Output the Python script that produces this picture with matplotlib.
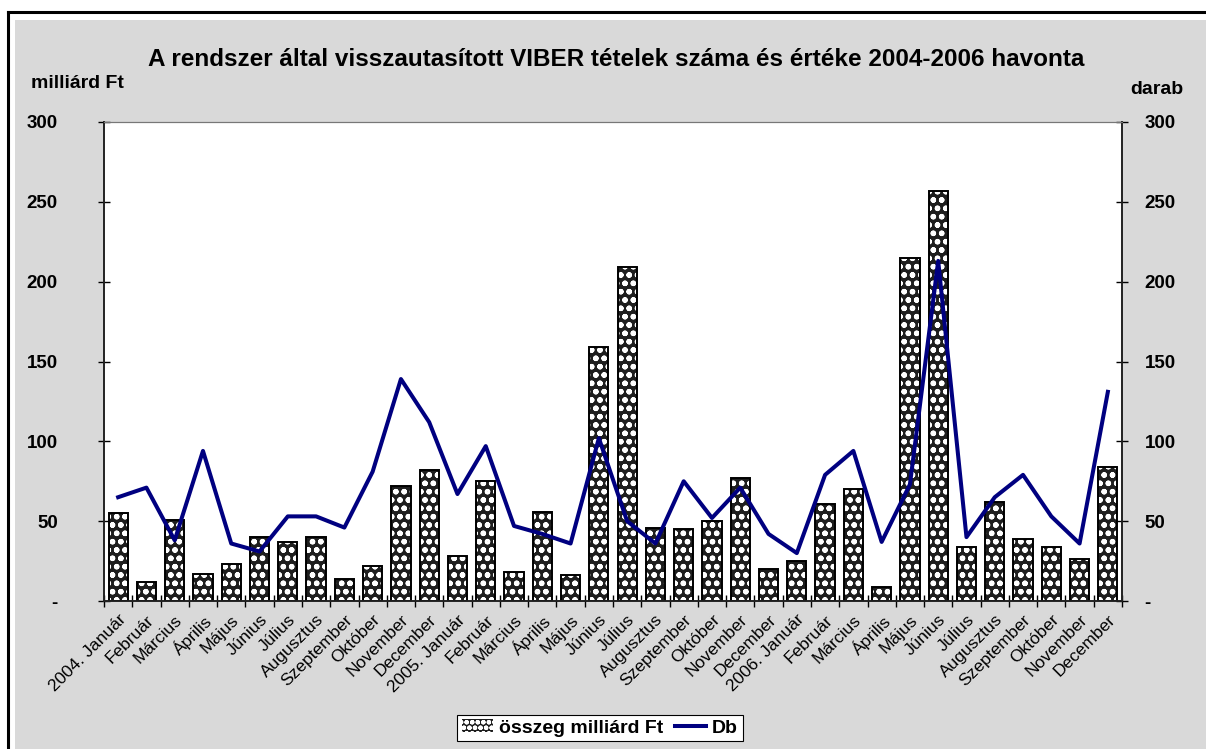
import matplotlib.pyplot as plt
from matplotlib.patches import Rectangle, Patch
from matplotlib.lines import Line2D

plt.rcParams['font.family'] = ['Liberation Sans', 'DejaVu Sans']
plt.rcParams['hatch.linewidth'] = 1.6

months = ["Január", "Február", "Március", "Április", "Május", "Június",
          "Július", "Augusztus", "Szeptember", "Október", "November", "December"]
labels = []
for year in ["2004", "2005", "2006"]:
    labels += [year + ". " + months[0]] + months[1:]

osszeg = [55, 12, 51, 17, 23, 40, 37, 40, 14, 22, 72, 82,
          28, 75, 18, 56, 16, 159, 209, 46, 45, 50, 77, 20,
          25, 61, 70, 9, 215, 257, 34, 62, 39, 34, 26, 84]
db = [65, 71, 38, 94, 36, 31, 53, 53, 46, 81, 139, 112,
      67, 97, 47, 42, 36, 102, 50, 36, 75, 52, 71, 42,
      30, 79, 94, 37, 73, 213, 40, 65, 79, 53, 36, 131]

W, H = 1206, 749
fig = plt.figure(figsize=(W / 100, H / 100), dpi=100, facecolor='white')

# background panel and frame
fig.add_artist(Rectangle((15 / W, 0), 1, 1 - 20 / H, transform=fig.transFigure,
                         facecolor='#d9d9d9', edgecolor='none', zorder=-5))
fig.add_artist(Line2D([8 / W, 8 / W], [0, 1 - 12 / H], color='black', lw=2.2,
                      transform=fig.transFigure, zorder=-4))
fig.add_artist(Line2D([8 / W, 1], [1 - 12 / H, 1 - 12 / H], color='black', lw=2.2,
                      transform=fig.transFigure, zorder=-4))

ax = fig.add_axes([104 / W, (H - 601) / H, (1122 - 104) / W, (601 - 122) / H])
ax.set_facecolor('white')
x = list(range(len(labels)))

ax.bar(x, osszeg, width=0.68, facecolor='#1e1e1e', edgecolor='white', hatch='oo',
       linewidth=0, zorder=2)
ax.bar(x, osszeg, width=0.68, fill=False, edgecolor='black', linewidth=1.4, zorder=3)

ax.set_xlim(-0.5, len(labels) - 0.5)
ax.set_ylim(0, 300)
ax.set_yticks(range(0, 301, 50))
ax.set_yticklabels(['-'] + [str(v) for v in range(50, 301, 50)])
ax.tick_params(axis='y', direction='inout', length=8.5, width=1, pad=29,
               labelsize=13.5)
for t in ax.get_yticklabels():
    t.set_fontweight('bold')

ax.set_xticks(x)
ax.set_xticklabels(labels, rotation=45, ha='right', rotation_mode='anchor', fontsize=12.5)
ax.tick_params(axis='x', length=0, pad=8)
ax.set_xticks([i - 0.5 for i in range(len(labels) + 1)], minor=True)
ax.tick_params(axis='x', which='minor', direction='inout', length=9, width=1)

for s in ['left', 'bottom', 'right']:
    ax.spines[s].set_color('#222222')
    ax.spines[s].set_linewidth(1.2)
ax.spines['top'].set_color('#777777')

ax2 = ax.twinx()
ax2.plot(x, db, color='#000080', linewidth=2.9, zorder=4)
ax2.set_ylim(0, 300)
ax2.set_yticks(range(0, 301, 50))
ax2.set_yticklabels(['-'] + [str(v) for v in range(50, 301, 50)])
ax2.tick_params(axis='y', direction='inout', length=8.5, width=1, pad=12, labelsize=13.5)
for t in ax2.get_yticklabels():
    t.set_fontweight('bold')
for s in ['left', 'bottom', 'right']:
    ax2.spines[s].set_color('#222222')
    ax2.spines[s].set_linewidth(1.2)
ax2.spines['top'].set_color('#777777')

fig.text(616 / W, 1 - 60 / H, "A rendszer által visszautasított VIBER tételek száma és értéke 2004-2006 havonta",
         ha='center', va='center', fontsize=17.5, fontweight='bold')
fig.text(31 / W, 1 - 83 / H, "milliárd Ft", ha='left', va='center', fontsize=14, fontweight='bold')
fig.text(1183 / W, 1 - 90 / H, "darab", ha='right', va='center', fontsize=14, fontweight='bold')

handles = [Patch(facecolor='#1e1e1e', edgecolor='white', hatch='ooo', linewidth=0),
           Line2D([0], [0], color='#000080', linewidth=2.9)]
leg = fig.legend(handles, ["összeg milliárd Ft", "Db"], loc='center',
                 bbox_to_anchor=(600 / W, 1 - 728 / H), ncol=2, frameon=True,
                 fancybox=False, edgecolor='black', facecolor='white', framealpha=1,
                 prop={'weight': 'bold', 'size': 14}, handlelength=1.6,
                 handleheight=0.6, handletextpad=0.3, columnspacing=0.6,
                 borderpad=0.25)
leg.get_frame().set_linewidth(0.8)

fig.savefig('out.png', dpi=100, facecolor=fig.get_facecolor())
